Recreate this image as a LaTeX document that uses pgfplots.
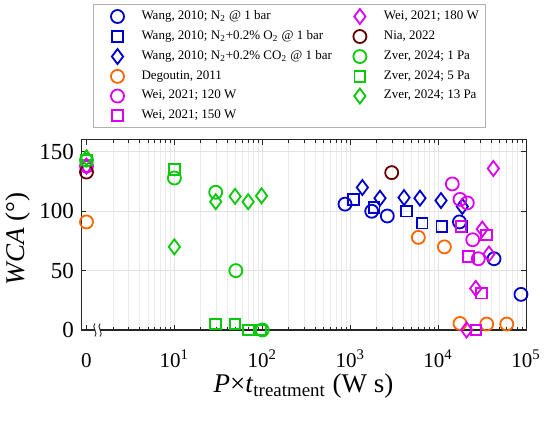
\documentclass[border=0pt]{standalone}
\usepackage{fontspec}
\setmainfont{Liberation Serif}
\usepackage{pgfplots}
\pgfplotsset{compat=1.18}
\definecolor{cblue}{RGB}{0,0,205}
\definecolor{corange}{RGB}{255,102,0}
\definecolor{cmag}{RGB}{220,0,240}
\definecolor{cdred}{RGB}{102,0,0}
\definecolor{cgreen}{RGB}{10,200,10}
\definecolor{axgray}{RGB}{38,38,38}
\pgfplotsset{lgimg/.style={legend image code/.code={%
  \path[draw=none,fill=none] (-10.5pt,-1pt) rectangle (10pt,1pt);
  \draw[##1, only marks] plot coordinates {(0cm,0cm)};}}}
\begin{document}
\begin{tikzpicture}
\begin{axis}[
  scale only axis, width=222.5pt, height=95pt,
  xmode=log, xmin=0.866, xmax=1e5, ymin=0, ymax=160,
  clip=false,
  xtick={10,100,1000,10000,100000},
  xticklabels={10\textsuperscript{1},10\textsuperscript{2},10\textsuperscript{3},10\textsuperscript{4},10\textsuperscript{5}},
  extra x ticks={1}, extra x tick labels={0}, extra x tick style={grid=none},
  minor xtick={2,3,4,5,6,7,8,9,20,30,40,50,60,70,80,90,200,300,400,500,600,700,800,900,2000,3000,4000,5000,6000,7000,8000,9000,20000,30000,40000,50000,60000,70000,80000,90000},
  ytick={0,50,100,150}, yticklabels={0,50,100,150},
  xmajorgrids, xminorgrids, ymajorgrids,
  major grid style={gray!22, line width=0.4pt},
  minor grid style={gray!16, line width=0.4pt},
  tick align=inside,
  major tick length=2.4pt, minor tick length=1.3pt,
  every tick/.style={axgray, line width=0.4pt},
  axis line style={axgray, line width=0.5pt},
  xticklabel style={font=\fontsize{10.5}{12}\selectfont, anchor=base, yshift=-18.5pt},
  yticklabel style={font=\fontsize{11.5}{12}\selectfont},
  xlabel={\textit{P}×\textit{t}\textsubscript{treatment} (W s)},
  ylabel={\textit{WCA} (°)},
  label style={font=\fontsize{13.5}{16}\selectfont},
  xlabel style={at={(axis description cs:0.5,0)}, anchor=base, yshift=-31pt},
  ylabel style={at={(axis description cs:-0.1416,0.48)}, anchor=center},
  legend columns=2,
  legend cell align=left,
  legend style={at={(axis description cs:0,1)}, anchor=south west, xshift=6pt, yshift=6pt,
    draw=gray!60, line width=0.5pt, font=\fontsize{6.5}{8}\selectfont,
    inner xsep=1.5pt, inner ysep=1pt,
    /tikz/every even column/.append style={column sep=1.5pt}},
  every axis plot/.append style={line width=0.9pt},
]
% legend images in row-major order
\addlegendimage{only marks, mark=o, mark size=3.25pt, cblue, line width=0.9pt, lgimg}
\addlegendentry{Wang, 2010; N\textsubscript{2} @ 1 bar}
\addlegendimage{only marks, mark=diamond, mark size=3.75pt, cmag, line width=0.9pt, lgimg}
\addlegendentry{Wei, 2021; 180 W}
\addlegendimage{only marks, mark=square, mark size=2.65pt, cblue, line width=0.9pt, lgimg}
\addlegendentry{Wang, 2010; N\textsubscript{2}+0.2\% O\textsubscript{2} @ 1 bar}
\addlegendimage{only marks, mark=o, mark size=3.25pt, cdred, line width=0.9pt, lgimg}
\addlegendentry{Nia, 2022}
\addlegendimage{only marks, mark=diamond, mark size=3.75pt, cblue, line width=0.9pt, lgimg}
\addlegendentry{Wang, 2010; N\textsubscript{2}+0.2\% CO\textsubscript{2} @ 1 bar}
\addlegendimage{only marks, mark=o, mark size=3.25pt, cgreen, line width=0.9pt, lgimg}
\addlegendentry{Zver, 2024; 1 Pa}
\addlegendimage{only marks, mark=o, mark size=3.25pt, corange, line width=0.9pt, lgimg}
\addlegendentry{Degoutin, 2011}
\addlegendimage{only marks, mark=square, mark size=2.65pt, cgreen, line width=0.9pt, lgimg}
\addlegendentry{Zver, 2024; 5 Pa}
\addlegendimage{only marks, mark=o, mark size=3.25pt, cmag, line width=0.9pt, lgimg}
\addlegendentry{Wei, 2021; 120 W}
\addlegendimage{only marks, mark=diamond, mark size=3.75pt, cgreen, line width=0.9pt, lgimg}
\addlegendentry{Zver, 2024; 13 Pa}
\addlegendimage{only marks, mark=square, mark size=2.65pt, cmag, line width=0.9pt, lgimg}
\addlegendentry{Wei, 2021; 150 W}

% Wang N2
\addplot[forget plot, only marks, mark=o, mark size=3.25pt, cblue] coordinates {
 (873,106) (1757,100) (2644,96) (17500,91) (43300,60) (87700,30)};
% Wang O2
\addplot[forget plot, only marks, mark=square, mark size=2.65pt, cblue] coordinates {
 (1085,110) (1880,103) (4390,100) (6610,90) (10990,87) (18540,87)};
% Wang CO2
\addplot[forget plot, only marks, mark=diamond, mark size=3.75pt, cblue] coordinates {
 (1374,120) (2183,111) (4094,111.5) (6220,111) (10790,109) (18840,104)};
% Degoutin
\addplot[forget plot, only marks, mark=o, mark size=3.25pt, corange] coordinates {
 (1,91) (5960,78) (11780,70) (17740,5.5) (35730,5) (60400,5)};
% Wei 120
\addplot[forget plot, only marks, mark=o, mark size=3.25pt, cmag] coordinates {
 (1,138) (14510,123) (17740,110) (21500,107) (24770,76) (28670,60)};
% Wei 150
\addplot[forget plot, only marks, mark=square, mark size=2.65pt, cmag] coordinates {
 (1,138) (18200,87) (35700,80) (22070,62) (31300,31) (27000,0)};
% Wei 180
\addplot[forget plot, only marks, mark=diamond, mark size=3.75pt, cmag] coordinates {
 (1,138) (42500,136) (31800,85) (37900,64) (26800,35) (21100,0)};
% Nia
\addplot[forget plot, only marks, mark=o, mark size=3.25pt, cdred] coordinates {
 (1,133) (2966,132.5)};
% Zver 1 Pa
\addplot[forget plot, only marks, mark=o, mark size=3.25pt, cgreen] coordinates {
 (1,143) (10,128) (29.5,116) (50,50) (100,0)};
% Zver 5 Pa
\addplot[forget plot, only marks, mark=square, mark size=2.65pt, cgreen] coordinates {
 (1,143) (10,135) (29.5,5) (49,5) (69,0) (95,0)};
% Zver 13 Pa
\addplot[forget plot, only marks, mark=diamond, mark size=3.75pt, cgreen] coordinates {
 (1,145) (10,70) (29.5,108) (49,112.5) (69,108) (98,113)};

\coordinate (brk) at (axis cs:1.334,0);
\end{axis}
\fill[white] ([xshift=-1.3pt,yshift=-1pt]brk) rectangle ([xshift=1.3pt,yshift=1pt]brk);
\draw[axgray, line width=0.45pt] ([xshift=-1.3pt,yshift=-3.2pt]brk) .. controls +(2pt,1.2pt) and +(-2pt,-1.2pt) .. ([xshift=-1.3pt,yshift=3.2pt]brk);
\draw[axgray, line width=0.45pt] ([xshift=1.3pt,yshift=-3.2pt]brk) .. controls +(2pt,1.2pt) and +(-2pt,-1.2pt) .. ([xshift=1.3pt,yshift=3.2pt]brk);
\pgfresetboundingbox
\path (-40.5pt,-46pt) rectangle (234.5pt,165pt);
\end{tikzpicture}
\end{document}
